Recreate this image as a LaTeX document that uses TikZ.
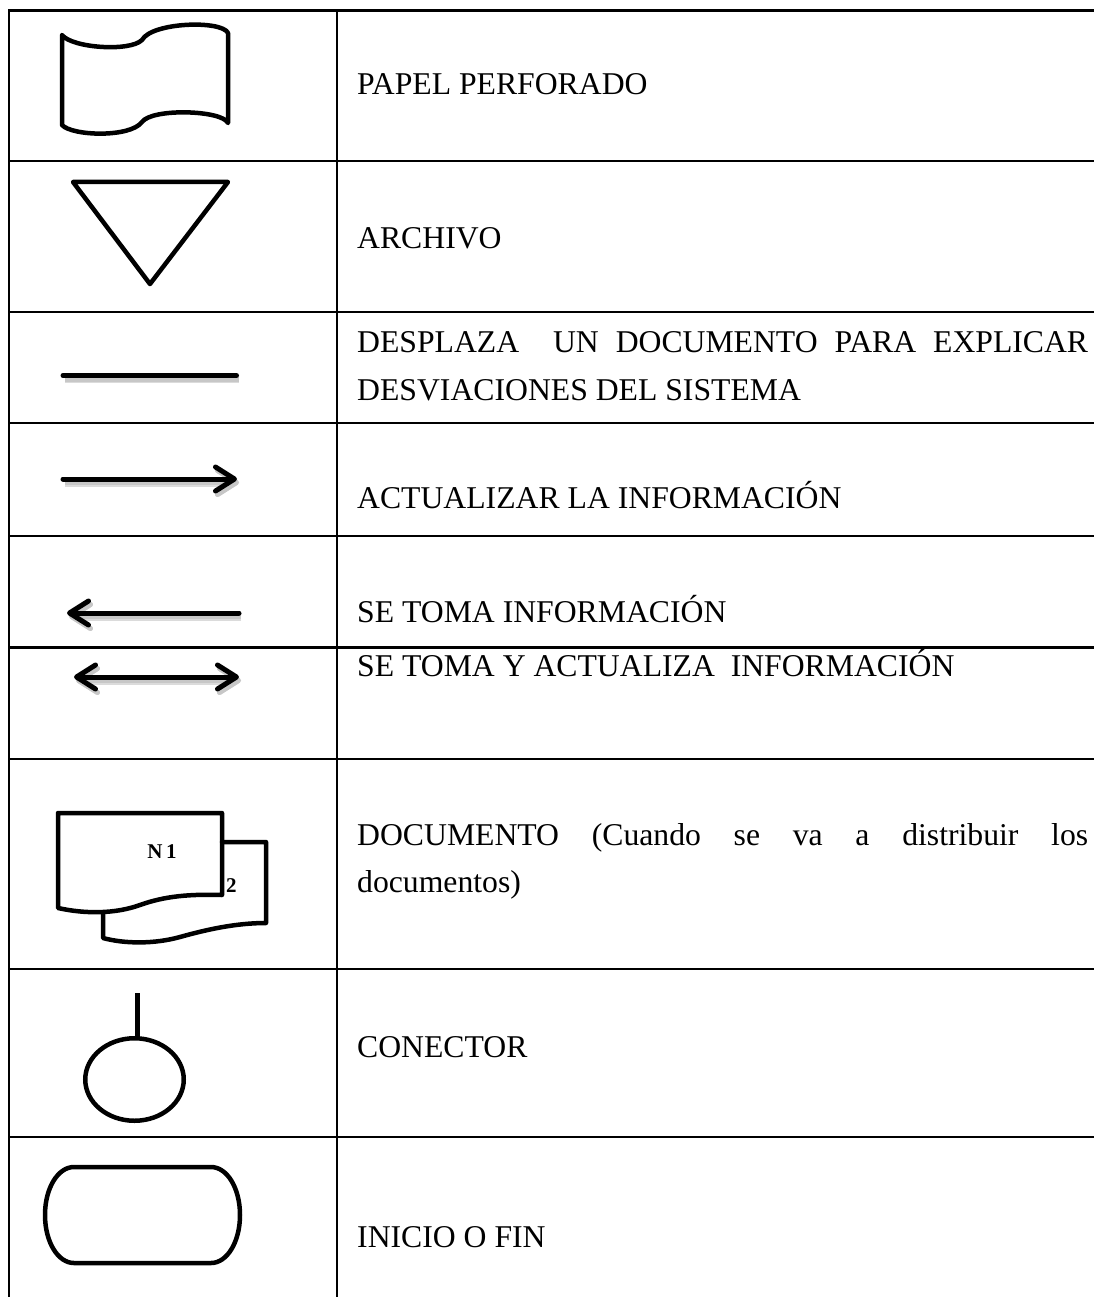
\documentclass[tikz,border=0pt]{standalone}
\usepackage{fontspec}
\setmainfont{Liberation Serif}
\usetikzlibrary{arrows.meta,shapes.geometric}

\tikzset{vbarb/.tip={Straight Barb[length=19pt,width=24pt,line width=5pt,round]}}

\begin{document}
\begin{tikzpicture}[x=1pt,y=-1pt,
  rule/.style={line width=2.2pt},
  sym/.style={line width=4.5pt, line join=round, line cap=round},
  bar/.style={line width=5pt, line cap=round,
    preaction={draw=black!14, line width=8pt, transform canvas={shift={(2pt,-3.5pt)}}},
    preaction={draw=black!22, line width=5pt, transform canvas={shift={(2pt,-3.5pt)}}}},
  lbl/.style={anchor=base west, inner sep=0pt, font=\fontsize{31.7}{40}\selectfont},
  tag/.style={inner sep=0pt, font=\bfseries\fontsize{21}{21}\selectfont}
]
\useasboundingbox (0,0) rectangle (1094,1297);

% table frame: two columns, open at the right and at the bottom
\draw[rule] (9,10.5) -- (9,1297);
\draw[rule] (337,10.5) -- (337,1297);
\foreach \y in {10.5,160.7,311.7,423,536,647.5,759,969,1137}
  \draw[rule] (8,\y) -- (1094,\y);

% punched tape
\draw[sym] (62,35) .. controls (72,48) and (130,52) .. (142,40)
  .. controls (152,22) and (222,20) .. (228,33) -- (228,123)
  .. controls (222,110) and (152,108) .. (142,122)
  .. controls (130,138) and (72,136) .. (62,125) -- cycle;
\node[lbl] (t1) at (357,95) {PAPEL PERFORADO};

% file (inverted triangle)
\draw[sym] (73,182) -- (228,182) -- (150,284) -- cycle;
\node[lbl] (t2) at (357,248) {ARCHIVO};

% plain line
\coordinate (l1a) at (63,375.5);
\coordinate (l1b) at (236.5,375.5);
\draw[bar] (l1a) -- (l1b);
\node[lbl] (t3a) at (357,352) {\makebox[731pt][s]{DESPLAZA\ \ UN DOCUMENTO PARA EXPLICAR}};
\node[lbl] (t3b) at (357,400) {DESVIACIONES DEL SISTEMA};

% arrow to the right
\coordinate (l2a) at (63,479);
\coordinate (l2b) at (237,479);
\draw[bar, -{vbarb}] (l2a) -- (l2b);
\node[lbl] (t4) at (357,508) {ACTUALIZAR LA INFORMACIÓN};

% arrow to the left
\coordinate (l3a) at (239,613);
\coordinate (l3b) at (67,613);
\draw[bar, -{vbarb}] (l3a) -- (l3b);
\node[lbl] (t5) at (357,622) {SE TOMA INFORMACIÓN};

% double arrow
\coordinate (l4a) at (74,677);
\coordinate (l4b) at (239,677);
\draw[bar, {vbarb}-{vbarb}] (l4a) -- (l4b);
\node[lbl] (t6) at (357,676) {SE TOMA Y ACTUALIZA\ \ INFORMACIÓN};

% multiple documents
\draw[sym] (222,842) -- (266,842) -- (266,923)
  .. controls (235,923) and (205,930) .. (180,937)
  .. controls (155,944) and (125,944) .. (103,938) -- (103,913);
\draw[sym] (58,813) -- (222,813) -- (222,895)
  .. controls (190,894) and (165,896) .. (140,905)
  .. controls (115,914) and (85,914) .. (58,908) -- cycle;
\node[tag, anchor=base] (n1) at (162,858) {N\,1};
\node[tag, anchor=base west] (n2) at (226,892) {2};
\node[lbl] (t7a) at (357,845) {\makebox[731pt][s]{DOCUMENTO (Cuando se va a distribuir los}};
\node[lbl] (t7b) at (357,892) {documentos)};

% connector
\node[ellipse, draw, line width=4.5pt, inner sep=0pt,
  minimum width=98.5pt, minimum height=82.5pt] (conn) at (134.5,1079.5) {};
\coordinate (stem) at (137,993);
\draw[line width=5pt] (stem) -- (stem |- conn.north);
\node[lbl] (t8) at (357,1057) {CONECTOR};

% terminator
\draw[sym] (74,1167) -- (211,1167)
  .. controls (227,1167) and (240,1188) .. (240,1215)
  .. controls (240,1242) and (227,1263) .. (211,1263) -- (74,1263)
  .. controls (58,1263) and (45,1242) .. (45,1215)
  .. controls (45,1188) and (58,1167) .. (74,1167) -- cycle;
\node[lbl] (t9) at (357,1247) {INICIO O FIN};
\end{tikzpicture}
\end{document}
